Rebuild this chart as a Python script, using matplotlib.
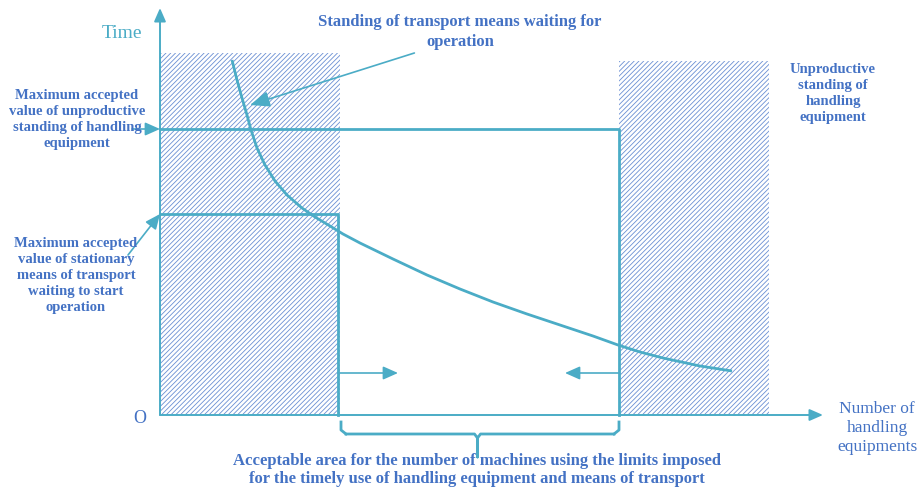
"""Schematic: acceptable range for the number of handling equipments."""

import matplotlib
matplotlib.use("Agg")
import matplotlib.pyplot as plt
from matplotlib.patches import Rectangle

# Axes units: origin at "O", x = number of handling equipments, y = time
# (arbitrary units)

# Waiting-time curve of transport means vs number of handling equipments
CURVE_X = [72, 77, 82, 87, 91, 97, 105, 115, 127, 142, 155, 170, 183, 200,
           233, 267, 300, 333, 367, 400, 433, 458, 480, 503, 540, 572]
CURVE_Y = [355, 335, 317, 300, 285, 267, 250, 234, 220, 207, 198, 189, 181, 172,
           156, 140, 126, 113, 101, 90, 79, 70, 63, 57, 49, 44]

# Limits
T_TRANSPORT_MAX = 201   # max accepted waiting of stationary transport means
T_HANDLING_MAX = 286    # max accepted unproductive standing of handling equipment
N_MIN = 178             # lower bound of acceptable number of machines
N_MAX = 459             # upper bound of acceptable number of machines

# Hatched (non-acceptable) zones: (x0, x1, top)
LEFT_ZONE = (0, 180, 362)
RIGHT_ZONE = (459, 609, 354)

AXIS_X_END = 663
AXIS_Y_END = 407

TEAL = "#4BACC6"
BLUE = "#4472C4"
HATCH = "#6A8FD3"
SERIF = "Liberation Serif"

plt.rcParams["hatch.linewidth"] = 0.6

fig = plt.figure(figsize=(9.19, 4.9), dpi=100)
ax = fig.add_axes([0, 0, 1, 1])
ax.set_xlim(-160, 759)
ax.set_ylim(-75, 415)
ax.axis("off")

# hatched zones
for x0, x1, top in (LEFT_ZONE, RIGHT_ZONE):
    ax.add_patch(Rectangle((x0, 0), x1 - x0, top, facecolor="white",
                           edgecolor=HATCH, hatch="///////", linewidth=0, zorder=1))

# limit lines
ax.plot([0, N_MIN, N_MIN], [T_TRANSPORT_MAX, T_TRANSPORT_MAX, 0], color=TEAL, lw=2, zorder=3)
ax.plot([0, N_MAX, N_MAX], [T_HANDLING_MAX, T_HANDLING_MAX, 0], color=TEAL, lw=2, zorder=3)

# curve
ax.plot(CURVE_X, CURVE_Y, color=TEAL, lw=2, zorder=4, solid_capstyle="butt",
        solid_joinstyle="round")

# axes with arrows
arr = dict(arrowstyle="-|>,head_length=0.8,head_width=0.35", color=TEAL, lw=1.4,
           shrinkA=0, shrinkB=0)
ax.annotate("", xy=(0, AXIS_Y_END), xytext=(0, 0), arrowprops=arr, zorder=5)
ax.annotate("", xy=(AXIS_X_END, 0), xytext=(0, 0), arrowprops=arr, zorder=5)

# inner arrows pointing to the acceptable range
small = dict(arrowstyle="-|>,head_length=0.9,head_width=0.4", color=TEAL, lw=1.2,
             shrinkA=0, shrinkB=0)
ax.annotate("", xy=(238, 42), xytext=(N_MIN, 42), arrowprops=small)
ax.annotate("", xy=(405, 42), xytext=(N_MAX, 42), arrowprops=small)

# brace under acceptable range
mid = (N_MIN + N_MAX) / 2 - 1
ax.plot([N_MIN + 3, N_MIN + 3, N_MIN + 8], [-7, -15, -19], color=TEAL, lw=2,
        solid_joinstyle="round")
ax.plot([N_MIN + 8, mid - 3, mid, mid, mid, mid + 3, N_MAX - 5],
        [-19, -19, -23, -42, -23, -19, -19], color=TEAL, lw=2, solid_joinstyle="round")
ax.plot([N_MAX - 5, N_MAX, N_MAX], [-19, -15, -7], color=TEAL, lw=2,
        solid_joinstyle="round")

# annotations
txt = dict(color=BLUE, fontfamily=SERIF, fontweight="bold",
           fontsize=10.5, ha="center", va="center", linespacing=1.3)

ax.annotate("Standing of transport means waiting for\noperation", xy=(90, 310),
            xytext=(300, 383),
            arrowprops=dict(arrowstyle="-|>,head_length=1.0,head_width=0.4",
                            color=TEAL, lw=1.2, shrinkA=0, shrinkB=0, relpos=(0.37, 0)),
            **{**txt, "fontsize": 12, "linespacing": 1.37})
ax.annotate("", xy=(0, T_HANDLING_MAX), xytext=(-28, T_HANDLING_MAX), arrowprops=small)
ax.text(-83, 295, "Maximum accepted\nvalue of unproductive\nstanding of handling\nequipment", **txt)
ax.annotate("", xy=(0, T_TRANSPORT_MAX), xytext=(-32, 160), arrowprops=small)
ax.text(-84, 140, "Maximum accepted\nvalue of stationary\nmeans of transport\nwaiting to start\noperation", **txt)
ax.text(673, 321, "Unproductive\nstanding of\nhandling\nequipment", **txt)
ax.text(317, -55, "Acceptable area for the number of machines using the limits imposed\n"
        "for the timely use of handling equipment and means of transport",
        **{**txt, "fontsize": 12, "linespacing": 1.17})

ax.text(-38, 381, "Time", color=TEAL, fontfamily=SERIF, fontsize=14,
        ha="center", va="center")
ax.text(-20, -3, "O", color=BLUE, fontfamily=SERIF, fontsize=13,
        ha="center", va="center")
ax.text(717, -13, "Number of\nhandling\nequipments", color=BLUE, fontfamily=SERIF,
        fontsize=12.5, ha="center", va="center", linespacing=1.28)

fig.savefig("out.png", dpi=100)
